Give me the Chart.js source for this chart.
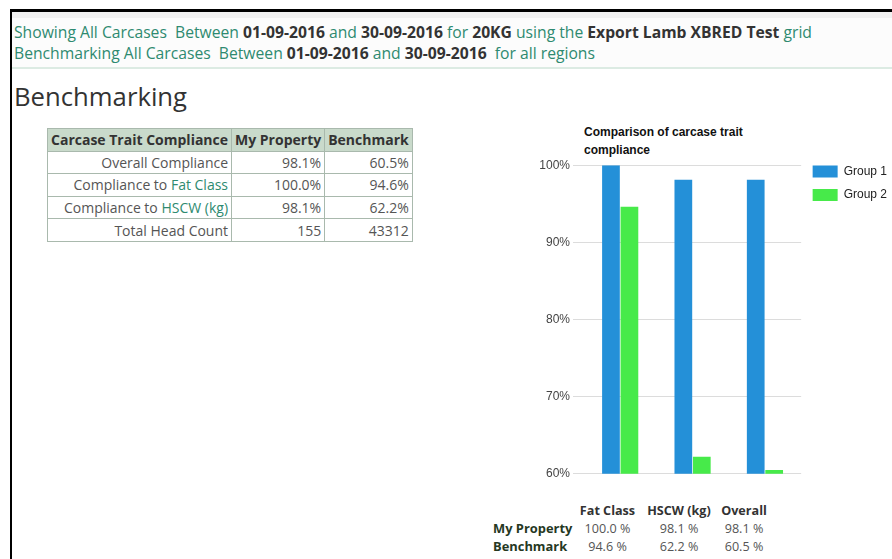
<!doctype html>
<html lang="en">
  <head>
    <meta charset="utf-8">
    <title>Benchmarking</title>
    <style>
      * {
        margin: 0;
        padding: 0;
      }
      body {
        width: 892px;
        height: 559px;
        overflow: hidden;
        background: #fff;
        font-family: "Open Sans", sans-serif;
        position: relative;
      }
      .frame {
        position: absolute;
        left: 10px;
        top: 9px;
        width: 900px;
        height: 600px;
        border-left: 2px solid #000;
        border-top: 3px solid #000;
      }
      .topStrip {
        position: absolute;
        left: 12px;
        top: 12px;
        width: 880px;
        height: 6px;
        background: #f1f1f1;
      }
      .header {
        position: absolute;
        left: 12px;
        top: 18px;
        width: 880px;
        height: 49px;
        background: #fcfcfc;
        border-bottom: 2px solid #dcebe3;
        color: #2e8a70;
        font-size: 15.7px;
        white-space: nowrap;
      }
      .header p {
        position: absolute;
        left: 2px;
        line-height: 21px;
      }
      .header b {
        color: #333;
      }
      h1 {
        position: absolute;
        left: 14px;
        top: 79px;
        font-weight: normal;
        font-size: 25.7px;
        line-height: 36px;
        color: #333;
      }
      #summary {
        position: absolute;
        left: 47px;
        top: 128px;
        border-collapse: collapse;
        font-size: 14px;
        color: #555;
      }
      #summary th, #summary td {
        border: 1px solid #a9b9ad;
        height: 21.6px;
        padding: 0 3px;
        text-align: right;
      }
      #summary th {
        background: #c9dacb;
        color: #333;
        font-weight: bold;
      }
      #summary td span {
        color: #2e8a70;
      }
      .chartTitle {
        position: absolute;
        left: 584px;
        top: 123px;
        font-family: Arial, "Liberation Sans", sans-serif;
        font-weight: bold;
        font-size: 12px;
        line-height: 18px;
        color: #111;
      }
      .chartBox {
        position: absolute;
        left: 480px;
        top: 155px;
        width: 417px;
        height: 329px;
      }
      #values {
        position: absolute;
        left: 493px;
        top: 501px;
        border-collapse: collapse;
        table-layout: fixed;
        font-size: 12.6px;
        color: #555;
      }
      #values th, #values td {
        height: 18px;
        padding: 0;
        text-align: center;
        white-space: nowrap;
      }
      #values th {
        color: #333;
      }
      #values th.row {
        text-align: left;
        color: #25381f;
        font-size: 12.9px;
      }
    </style>
  </head>
  <body>
    <div class="frame"></div>
    <div class="topStrip"></div>
    <div class="header">
      <p style="top:4px">Showing All Carcases&nbsp; Between <b>01-09-2016</b> and <b>30-09-2016</b> for <b>20KG</b> using the <b>Export Lamb XBRED Test</b> grid</p>
      <p style="top:25px">Benchmarking All Carcases&nbsp; Between <b>01-09-2016</b> and <b>30-09-2016</b>&nbsp; for all regions</p>
    </div>
    <h1>Benchmarking</h1>
    <table id="summary"></table>
    <div class="chartTitle">Comparison of carcase trait<br>compliance</div>
    <div class="chartBox">
      <canvas id="myChart"></canvas>
    </div>
    <table id="values">
      <colgroup><col style="width:82px"><col style="width:65px"><col style="width:78px"><col style="width:52px"></colgroup>
    </table>

    <script src="https://cdn.jsdelivr.net/npm/chart.js/dist/chart.umd.min.js"></script>
    <script>
    // data
    const categories = ['Fat Class', 'HSCW (kg)', 'Overall'];
    const seriesNames = ['Group 1', 'Group 2'];
    const rowNames = ['My Property', 'Benchmark'];
    const myProperty = [100.0, 98.1, 98.1];
    const benchmark = [94.6, 62.2, 60.5];
    const headCount = [155, 43312];
    const yTicks = [60, 70, 80, 90, 100];

    // summary table (order: overall, fat class, hscw)
    const summary = document.getElementById('summary');
    let html = '<tr><th>Carcase Trait Compliance</th><th>My Property</th><th>Benchmark</th></tr>';
    html += '<tr><td>Overall Compliance</td><td>' + myProperty[2].toFixed(1) + '%</td><td>' + benchmark[2].toFixed(1) + '%</td></tr>';
    html += '<tr><td>Compliance to <span>' + categories[0] + '</span></td><td>' + myProperty[0].toFixed(1) + '%</td><td>' + benchmark[0].toFixed(1) + '%</td></tr>';
    html += '<tr><td>Compliance to <span>' + categories[1] + '</span></td><td>' + myProperty[1].toFixed(1) + '%</td><td>' + benchmark[1].toFixed(1) + '%</td></tr>';
    html += '<tr><td>Total Head Count</td><td>' + headCount[0] + '</td><td>' + headCount[1] + '</td></tr>';
    summary.innerHTML = html;

    // values table under the chart
    const values = document.getElementById('values');
    let vh = '<tr><th></th>' + categories.map(c => '<th>' + c + '</th>').join('') + '</tr>';
    [myProperty, benchmark].forEach((row, i) => {
      vh += '<tr><th class="row">' + rowNames[i] + '</th>' + row.map(v => '<td>' + v.toFixed(1) + ' %</td>').join('') + '</tr>';
    });
    values.insertAdjacentHTML('beforeend', vh);

    // setup
    const data = {
      labels: categories,
      datasets: [{
        label: seriesNames[0],
        data: myProperty,
        backgroundColor: '#2490d8',
        borderWidth: 0
      }, {
        label: seriesNames[1],
        data: benchmark,
        backgroundColor: '#47ea4a',
        borderWidth: 0
      }]
    };

    // nudge the legend up to the top of the plot
    const legendShift = {
      id: 'legendShift',
      afterLayout(chart) {
        chart.legend.top -= 11;
        chart.legend.bottom -= 11;
      }
    };

    // config
    const config = {
      type: 'bar',
      data,
      plugins: [legendShift],
      options: {
        responsive: true,
        maintainAspectRatio: false,
        animation: false,
        layout: { padding: { top: 10, bottom: 2, left: 0, right: 0 } },
        datasets: {
          bar: { categoryPercentage: 0.51, barPercentage: 0.96 }
        },
        plugins: {
          title: { display: false },
          tooltip: { enabled: false },
          legend: {
            position: 'right',
            align: 'start',
            labels: {
              boxWidth: 25,
              boxHeight: 12,
              padding: 11.5,
              color: '#222',
              font: { family: 'Arial', size: 12 }
            }
          }
        },
        scales: {
          x: {
            display: false
          },
          y: {
            min: 60,
            max: 100,
            afterBuildTicks: axis => { axis.ticks = yTicks.map(v => ({ value: v })); },
            afterFit: axis => { axis.width = 104; },
            border: { display: false },
            grid: { color: '#dcdcdc', drawTicks: true, tickLength: 11, tickColor: '#dcdcdc' },
            ticks: {
              padding: 3,
              color: '#444',
              font: { family: 'Arial', size: 12 },
              callback: v => v + '%'
            }
          }
        }
      }
    };

    // render
    const myChart = new Chart(document.getElementById('myChart'), config);
    </script>
  </body>
</html>
